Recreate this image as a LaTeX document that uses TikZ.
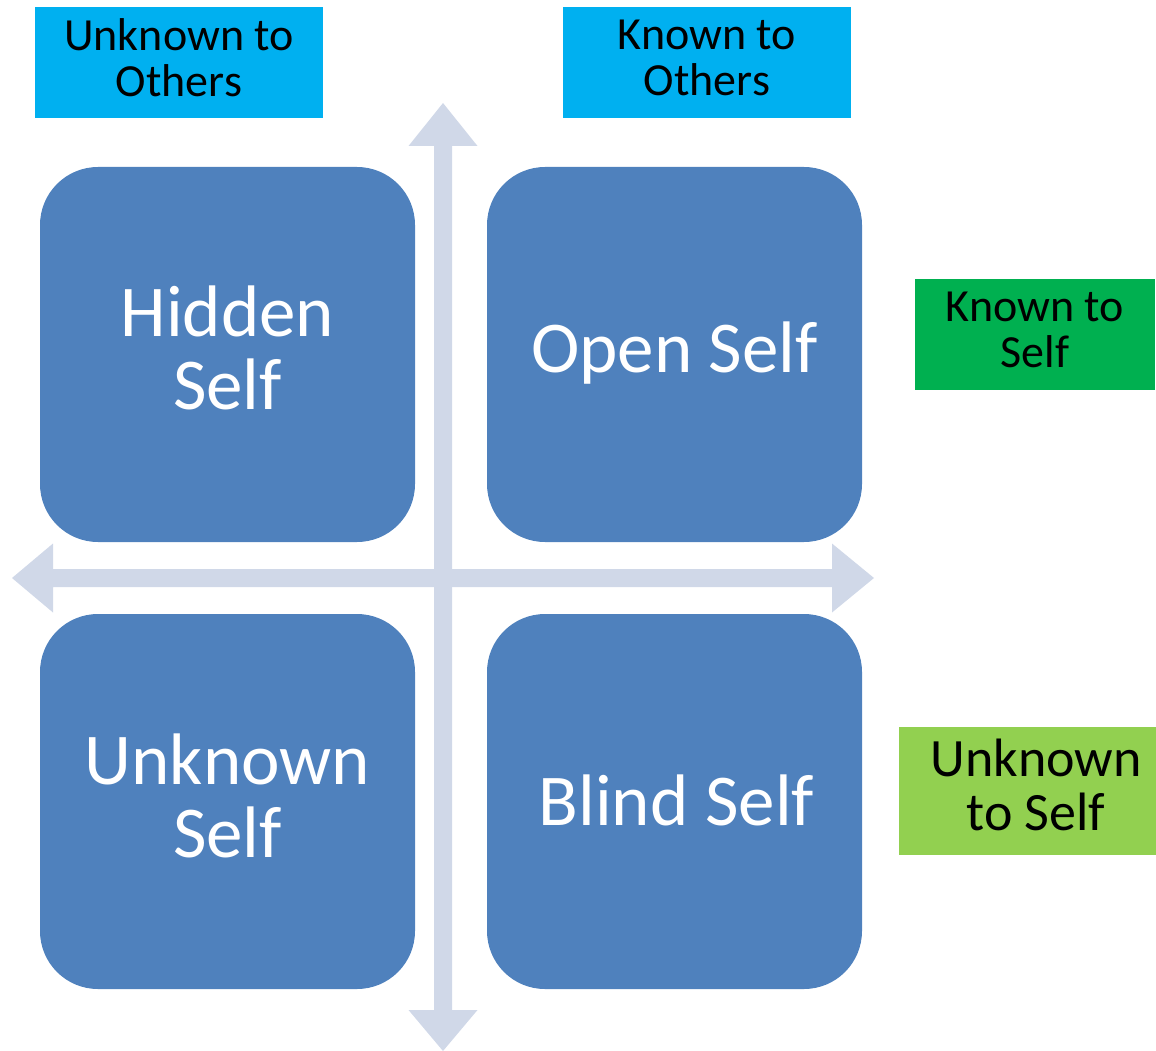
\documentclass[tikz,border=0pt]{standalone}
\usepackage{fontspec}
\setmainfont{Carlito}
\definecolor{quadblue}{HTML}{4F81BD}
\definecolor{axisgrey}{HTML}{D0D8E8}
\definecolor{otherscyan}{HTML}{00B0F0}
\definecolor{selfgreen}{HTML}{00B050}
\definecolor{unselfgreen}{HTML}{92D050}
\begin{document}
\begin{tikzpicture}[x=1pt,y=-1pt,
  quad/.style={fill=quadblue, rounded corners=58pt, minimum width=375pt,
    minimum height=375pt, inner sep=0pt},
  quadtext/.style={inner sep=0pt, text=white, align=center,
    font=\fontsize{73}{73}\selectfont},
  tagbox/.style={inner sep=0pt, minimum height=111pt},
  tagtext/.style={inner sep=0pt, align=center, font=\fontsize{46}{46}\selectfont},
  axis/.style={fill=axisgrey}]
\useasboundingbox (0,0) rectangle (1156,1051);

% double-headed axes
\fill[axis] (12,578) -- (53,543.5) -- (53,569) -- (832,569) -- (832,543.5)
  -- (874,578) -- (832,612.5) -- (832,587) -- (53,587) -- (53,612.5) -- cycle;
\fill[axis] (443,103) -- (477.5,146) -- (452,146) -- (452,1010) -- (477.5,1010)
  -- (443,1051) -- (408.5,1010) -- (434,1010) -- (434,146) -- (408.5,146) -- cycle;

% the four quadrants
\node[quad] (hidden)  at (227.5,354.5) {};
\node[quadtext] (hiddentext) at ([yshift=7pt]hidden.center) {Hidden\\Self};
\node[quad] (open)    at (674.5,354.5) {};
\node[quadtext] (opentext) at ([yshift=1pt]open.center) {Open Self};
\node[quad] (unknown) at (227.5,801.5) {};
\node[quadtext] (unknowntext) at ([yshift=6pt]unknown.center) {Unknown\\Self};
\node[quad] (blind)   at (674.5,801.5) {};
\node[quadtext] (blindtext) at ([xshift=2pt,yshift=1pt]blind.center) {Blind Self};

% axis labels
\node[tagbox, fill=otherscyan, minimum width=288pt] (unkothersbox) at (179,62.5) {};
\node[tagtext] (unkothers) at ([yshift=5pt]unkothersbox.center) {Unknown to\\Others};
\node[tagbox, fill=otherscyan, minimum width=288pt] (knothersbox) at (707,62.5) {};
\node[tagtext] (knothers) at ([yshift=5pt]knothersbox.center) {Known to\\Others};
\node[tagbox, fill=selfgreen, minimum width=240pt] (knselfbox) at (1035,334.5) {};
\node[tagtext] (knself) at ([yshift=5pt]knselfbox.center) {Known to\\Self};
\node[tagbox, fill=unselfgreen, minimum width=257pt, minimum height=128pt] (unkselfbox) at (1027.5,791) {};
\node[tagtext, font=\fontsize{54}{54}\selectfont] (unkself) at ([xshift=8.5pt,yshift=6pt]unkselfbox.center) {Unknown\\to Self};
\end{tikzpicture}
\end{document}
